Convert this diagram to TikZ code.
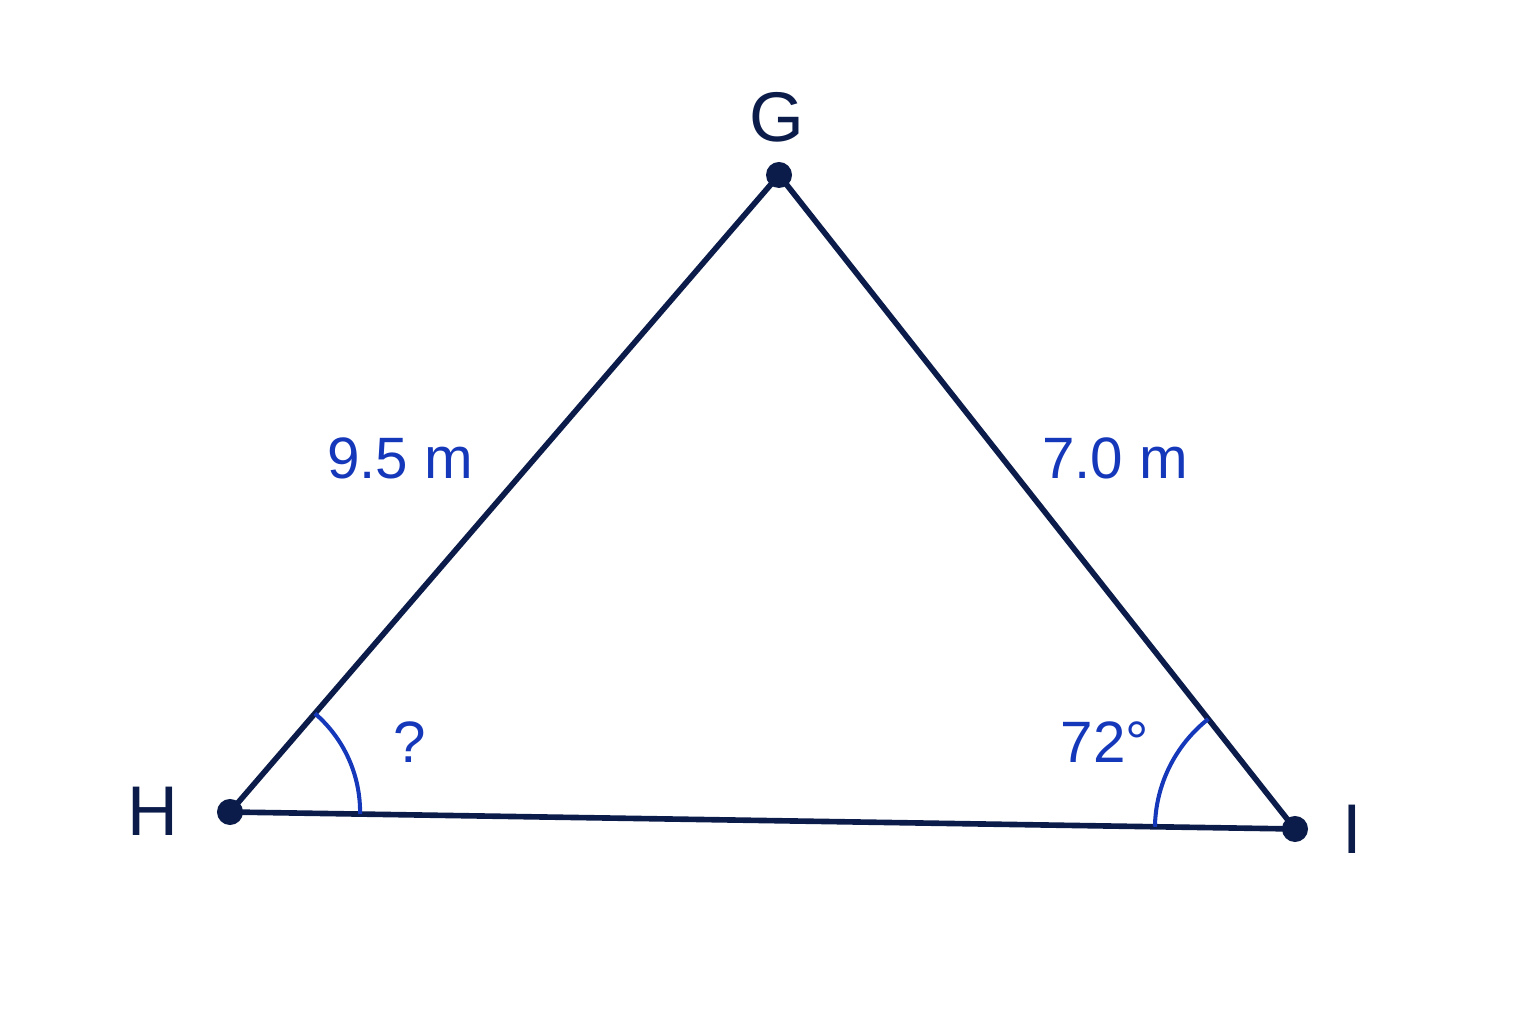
\documentclass[tikz,border=0pt]{standalone}
\usepackage{fontspec}
\setmainfont{Liberation Sans}
\usetikzlibrary{calc}
\definecolor{navy}{HTML}{0B1C4A}
\definecolor{lblue}{HTML}{1538BA}
\tikzset{
  side/.style={draw=navy, line width=1.6pt, line join=round},
  vdot/.style={fill=navy},
  anglearc/.style={draw=lblue, line width=1.15pt},
  vlabel/.style={text=navy, font=\fontsize{20}{24}\selectfont, inner sep=0pt},
  mlabel/.style={text=lblue, font=\fontsize{16.6}{20}\selectfont, inner sep=0pt}
}
\begin{document}
\begin{tikzpicture}[x=0.01cm,y=0.01cm]
\useasboundingbox (0,0) rectangle (1536,1024);
\coordinate (G) at (779,849);
\coordinate (H) at (230,212);
\coordinate (I) at (1295,195);
\draw[side] (G) -- (H) -- (I) -- cycle;
\draw[anglearc] ($(H)+(-0.91:1.3cm)$) arc[start angle=-0.91, end angle=49.25, radius=1.3cm];
\draw[anglearc] ($(I)+(128.27:1.4cm)$) arc[start angle=128.27, end angle=179.09, radius=1.4cm];
\fill[vdot] (G) circle (0.13cm);
\fill[vdot] (H) circle (0.13cm);
\fill[vdot] (I) circle (0.13cm);
\node[vlabel] (lG) at (777,907) {G};
\node[vlabel] (lH) at (153,213) {H};
\node[vlabel] (lI) at (1352,195) {I};
\node[mlabel] (sHG) at (400,566) {9.5 m};
\node[mlabel] (sGI) at (1115,566) {7.0 m};
\node[mlabel] (aH) at (410,282) {?};
\node[mlabel] (aI) at (1105,282) {72°};
\end{tikzpicture}
\end{document}
